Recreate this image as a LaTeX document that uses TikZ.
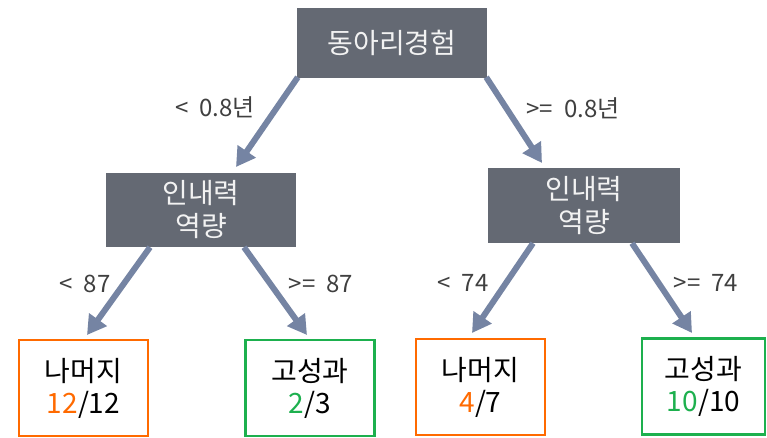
\documentclass[tikz,border=0pt]{standalone}
\usepackage{fontspec}
\setmainfont{Noto Sans CJK KR}
\usetikzlibrary{arrows.meta}
\definecolor{boxgray}{HTML}{646973}
\definecolor{arrowblue}{HTML}{7584A3}
\definecolor{leaforange}{HTML}{FF6A00}
\definecolor{leafgreen}{HTML}{1DB04E}
\definecolor{labelgray}{HTML}{404040}
\tikzset{
  inner/.style={fill=boxgray, text=white!95!black, align=center, inner sep=0pt,
    font=\fontsize{28}{33}\selectfont},
  leaf/.style={draw, line width=2.8pt, fill=white, text=black, align=center, inner sep=0pt,
    minimum width=129pt, minimum height=96pt, font=\fontsize{28}{32}\selectfont},
  cond/.style={text=labelgray, font=\fontsize{24}{28}\selectfont, inner sep=0pt},
  branch/.style={draw=arrowblue, line width=6pt, -{Triangle[width=21pt,length=19pt]}}
}
\begin{document}
\begin{tikzpicture}[x=1pt,y=-1pt]
\useasboundingbox (0,0) rectangle (767,437);
% inner nodes
\node[inner, minimum width=190pt, minimum height=70pt] (root) at (392,43) {동아리경험};
\node[inner, minimum width=190pt, minimum height=74pt] (lm) at (201,210) {인내력\\역량};
\node[inner, minimum width=192pt, minimum height=75pt] (rm) at (584,205.5) {인내력\\역량};
% leaves
\node[leaf, draw=leaforange] (l1) at (83.5,388) {나머지\\\textcolor{leaforange}{12}/12};
\node[leaf, draw=leafgreen] (l2) at (310,388) {고성과\\\textcolor{leafgreen}{2}/3};
\node[leaf, draw=leaforange] (r1) at (480.5,387) {나머지\\\textcolor{leaforange}{4}/7};
\node[leaf, draw=leafgreen, minimum width=123pt] (r2) at (703.5,386.5) {고성과\\\textcolor{leafgreen}{10}/10};
% arrow end coordinates
\coordinate (a1) at (236,167);
\coordinate (a2) at (542,163);
\coordinate (b1) at (87,335);
\coordinate (b2) at (307,335);
\coordinate (c1) at (472,333);
\coordinate (c2) at (692,333);
% branches
\draw[branch] (root.south west) ++(1,-1) -- (a1);
\draw[branch] (root.south east) ++(-1,-1) -- (a2);
\draw[branch] ([xshift=-51pt]lm.south) -- (b1);
\draw[branch] ([xshift=43pt]lm.south) -- (b2);
\draw[branch] ([xshift=-51pt]rm.south) -- (c1);
\draw[branch] ([xshift=48pt]rm.south) -- (c2);
% conditions
\node[cond] (t1) at (215,107) {<\ \ 0.8년};
\node[cond] (t2) at (573,108) {>=\ \ 0.8년};
\node[cond] (t3) at (85,284) {<\ \ 87};
\node[cond] (t4) at (321,284) {>=\ \ 87};
\node[cond] (t5) at (463,283) {<\ \ 74};
\node[cond] (t6) at (706,283) {>=\ \ 74};
\end{tikzpicture}
\end{document}
